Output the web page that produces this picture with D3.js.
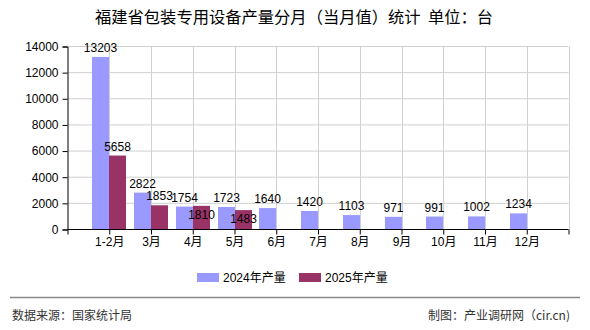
<!DOCTYPE html>
<html><head><meta charset="utf-8">
<script src="https://cdn.jsdelivr.net/npm/d3@7/dist/d3.min.js"></script>
<style>body{margin:0;background:#fff}svg{display:block}</style>
</head><body><svg id="c" width="590" height="330"></svg>
<script>
const categories = ["1-2月","3月","4月","5月","6月","7月","8月","9月","10月","11月","12月"];
const values2024 = [13203,2822,1754,1723,1640,1420,1103,971,991,1002,1234];
const values2025 = [5658,1853,1810,1483];
const yTicks = [0,2000,4000,6000,8000,10000,12000,14000];
const seriesNames = ["2024年产量","2025年产量"];
const colors = ["#9999FF","#993366"];
const title = "福建省包装专用设备产量分月（当月值）统计\u00a0\u00a0单位：台";
const sourceText = "数据来源：国家统计局";
const makerText = "制图：产业调研网（cir.cn)";

const FONT = "'Liberation Sans','Noto Sans CJK SC',sans-serif";
const svg = d3.select("#c");
const L = 67.5, R = 568.5, T = 46.5, B = 229.5;
const x = d3.scaleLinear().domain([0, categories.length + 1]).range([L, R]);
const y = d3.scaleLinear().domain([0, 14000]).range([B, T]);
const bw = 17;

svg.append("text").attr("x", 294).attr("y", 23).attr("text-anchor","middle")
  .attr("font-family", "'Noto Sans CJK SC',sans-serif").attr("font-size", 16.3).attr("fill","#000").text(title);

// grid
const g = svg.append("g");
g.selectAll("line.h").data(yTicks.filter(d=>d>0)).join("line")
  .attr("x1", L).attr("x2", R).attr("y1", d=>y(d)).attr("y2", d=>y(d))
  .attr("stroke","#d0d0d0").attr("stroke-width",1);
const vt = d3.range(1, categories.length + 2);
g.selectAll("line.v").data(vt).join("line")
  .attr("x1", d=>Math.round(x(d))+0.5).attr("x2", d=>Math.round(x(d))+0.5).attr("y1", T).attr("y2", B)
  .attr("stroke","#d0d0d0").attr("stroke-width",1);

// bars
svg.append("g").selectAll("rect").data(values2024).join("rect")
  .attr("x", (d,i)=>Math.round(x(i+1))-bw).attr("width", bw)
  .attr("y", d=>y(d)).attr("height", d=>B - y(d)).attr("fill", colors[0]);
svg.append("g").selectAll("rect").data(values2025).join("rect")
  .attr("x", (d,i)=>Math.round(x(i+1))).attr("width", bw)
  .attr("y", d=>y(d)).attr("height", d=>B - y(d)).attr("fill", colors[1]);

// axes
const ya = d3.axisLeft(y).tickValues(yTicks).tickSize(5).tickPadding(4).tickFormat(d3.format("d"));
const yg = svg.append("g").attr("transform", `translate(${L},0)`).call(ya);
yg.selectAll("text").attr("font-family", FONT).attr("font-size", 12).attr("fill","#000");
yg.selectAll("line,path").attr("stroke","#000");

const xa = d3.axisBottom(x).tickValues(d3.range(0, categories.length + 2)).tickSize(5).tickPadding(3)
  .tickFormat(d => (d>=1 && d<=categories.length) ? categories[d-1] : "");
const xg = svg.append("g").attr("transform", `translate(0,${B})`).call(xa);
xg.select("path").attr("d", `M${L},0H${R}`);
xg.selectAll("text").attr("font-family", FONT).attr("font-size", 12).attr("fill","#000");
xg.selectAll("line,path").attr("stroke","#000");

// labels
const lab = svg.append("g").attr("font-family", FONT).attr("font-size", 12).attr("fill","#000").attr("text-anchor","middle");
lab.selectAll("text.a").data(values2024).join("text")
  .attr("x", (d,i)=>Math.round(x(i+1)) - bw/2).attr("y", d=>y(d)-5).text(d=>d);
lab.selectAll("text.b").data(values2025).join("text")
  .attr("x", (d,i)=>Math.round(x(i+1)) + bw/2)
  .attr("y", (d,i)=> Math.abs(y(d) - y(values2024[i])) < 12 ? y(d)+13 : y(d)-5)
  .text(d=>d);

// legend
const lg = svg.append("g");
const lx = [197, 299];
seriesNames.forEach((n,i)=>{
  lg.append("rect").attr("x", lx[i]).attr("y", 273).attr("width", 22).attr("height", 9).attr("fill", colors[i]);
  lg.append("text").attr("x", lx[i]+26).attr("y", 282).attr("font-family", FONT).attr("font-size", 12).attr("fill","#000").text(n);
});

// footer
svg.append("line").attr("x1",10).attr("x2",580).attr("y1",297.5).attr("y2",297.5).attr("stroke","#888").attr("stroke-width",1.5);
svg.append("text").attr("x",12).attr("y",320).attr("font-family","'Noto Sans CJK SC',sans-serif").attr("font-size",12).attr("fill","#333").text(sourceText);
svg.append("text").attr("x",570).attr("y",320).attr("text-anchor","end").attr("font-family","'Noto Sans CJK SC',sans-serif").attr("font-size",12).attr("fill","#333").text(makerText);
</script></body></html>
